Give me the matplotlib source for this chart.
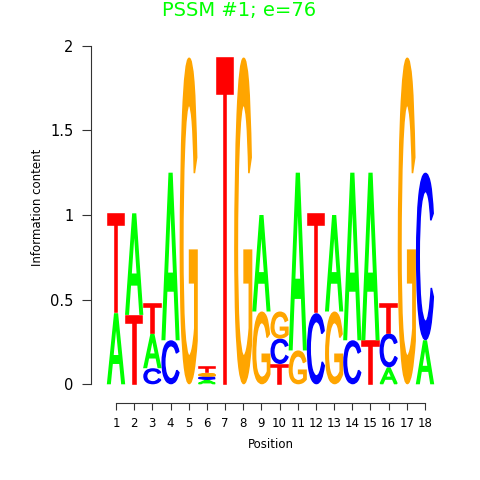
import numpy as np
import matplotlib
matplotlib.use('Agg')
import matplotlib.pyplot as plt
from matplotlib.textpath import TextPath
from matplotlib.patches import PathPatch
from matplotlib.path import Path
from matplotlib.font_manager import FontProperties
from matplotlib.transforms import Affine2D

# motif columns, letters stacked bottom -> top with their heights (bits)
positions = list(range(1, 19))
stack_letters = [
    ['A', 'T'], ['T', 'A'], ['C', 'A', 'T'], ['C', 'A'], ['G'],
    ['A', 'C', 'G', 'T'], ['T'], ['G'], ['G', 'A'], ['T', 'C', 'G'],
    ['G', 'A'], ['C', 'T'], ['G', 'A'], ['C', 'A'], ['T', 'A'],
    ['A', 'C', 'T'], ['G'], ['A', 'C'],
]
stack_heights = [
    [0.42, 0.59], [0.41, 0.60], [0.095, 0.205, 0.18], [0.26, 0.99], [1.93],
    [0.028, 0.018, 0.02, 0.04], [1.93], [1.93], [0.43, 0.57], [0.12, 0.15, 0.16],
    [0.20, 1.05], [0.42, 0.59], [0.43, 0.57], [0.26, 0.99], [0.26, 0.99],
    [0.10, 0.20, 0.18], [1.93], [0.26, 0.99],
]
letter_colors = {'A': '#00ff00', 'C': '#0000ff', 'G': '#ffa500', 'T': '#ff0000'}
y_ticks = [0, 0.5, 1, 1.5, 2]
y_ticklabels = ['0', '0.5', '1', '1.5', '2']
title = 'PSSM #1; e=76'

font = FontProperties(family='Liberation Sans')

fig = plt.figure(figsize=(4.8, 4.8), dpi=100)
W = H = 480.0
left_px, right_px, bottom_px, top_px = 90.7, 440.0, 403.0, 45.7
ax = fig.add_axes([left_px / W, 1 - bottom_px / H,
                   (right_px - left_px) / W, (bottom_px - top_px) / H])

unit_x = (425 - 116) / 17.0
unit_y = (384.3 - 45.7) / 2.0
edge_px = 1.6  # outline used to thicken the vertical strokes
dx = edge_px / 2 / unit_x
dy = edge_px / 2 / unit_y

# lower the crossbar of the G so it looks like the logo glyph
g_warp_in = [0, 0.39, 0.50, 0.737, 1]
g_warp_out = [0, 0.31, 0.41, 0.65, 1]


def glyph(letter):
    path = TextPath((0, 0), letter, size=1, prop=font)
    ext = path.get_extents()
    verts = path.vertices.copy()
    verts[:, 0] = (verts[:, 0] - ext.x0) / ext.width
    verts[:, 1] = (verts[:, 1] - ext.y0) / ext.height
    if letter == 'G':
        verts[:, 1] = np.interp(verts[:, 1], g_warp_in, g_warp_out)
    return Path(verts, path.codes)


glyphs = {k: glyph(k) for k in letter_colors}


def draw_letter(ax, letter, x, y0, h, width=1.0):
    w_in = width - 2 * dx
    h_in = max(h - 2 * dy, h * 0.3)
    tr = Affine2D().scale(w_in, h_in).translate(x - w_in / 2, y0 + (h - h_in) / 2)
    col = letter_colors[letter]
    ax.add_patch(PathPatch(tr.transform_path(glyphs[letter]), facecolor=col,
                           edgecolor=col, linewidth=edge_px * 72 / 100))


for pos, letters, heights in zip(positions, stack_letters, stack_heights):
    y = 0.0
    for letter, h in zip(letters, heights):
        draw_letter(ax, letter, pos, y, h)
        y += h

ax.set_xlim(1 - (116 - left_px) / unit_x, 1 + (right_px - 116) / unit_x)
ax.set_ylim(-(bottom_px - 384.3) / unit_y, 2)

for side in ['top', 'right']:
    ax.spines[side].set_visible(False)
ax.spines['left'].set_bounds(0, 2)
ax.spines['bottom'].set_bounds(1, 18)
for side in ['left', 'bottom']:
    ax.spines[side].set_linewidth(0.8)
    ax.spines[side].set_color('#333333')

ax.set_xticks(positions)
ax.set_xticklabels([str(p) for p in positions])
ax.set_yticks(y_ticks)
ax.set_yticklabels(y_ticklabels)
ax.tick_params(axis='x', length=5, width=0.8, pad=5, labelsize=8.5, color='#333333')
ax.tick_params(axis='y', length=6.5, width=0.8, pad=6, labelsize=10.5, color='#333333')

ax.set_xlabel('Position', fontsize=8.5, va='center')
ax.xaxis.set_label_coords((270.5 - left_px) / (right_px - left_px),
                          -(445 - bottom_px) / (bottom_px - top_px))
ax.set_ylabel('Information content', fontsize=8.5, va='center')
ax.yaxis.set_label_coords(-(left_px - 38) / (right_px - left_px),
                          (bottom_px - 207) / (bottom_px - top_px))

fig.text(0.499, 1 - 10 / H, title, color='#00ff00', fontsize=14,
         ha='center', va='center')

fig.savefig('out.png', dpi=100)
